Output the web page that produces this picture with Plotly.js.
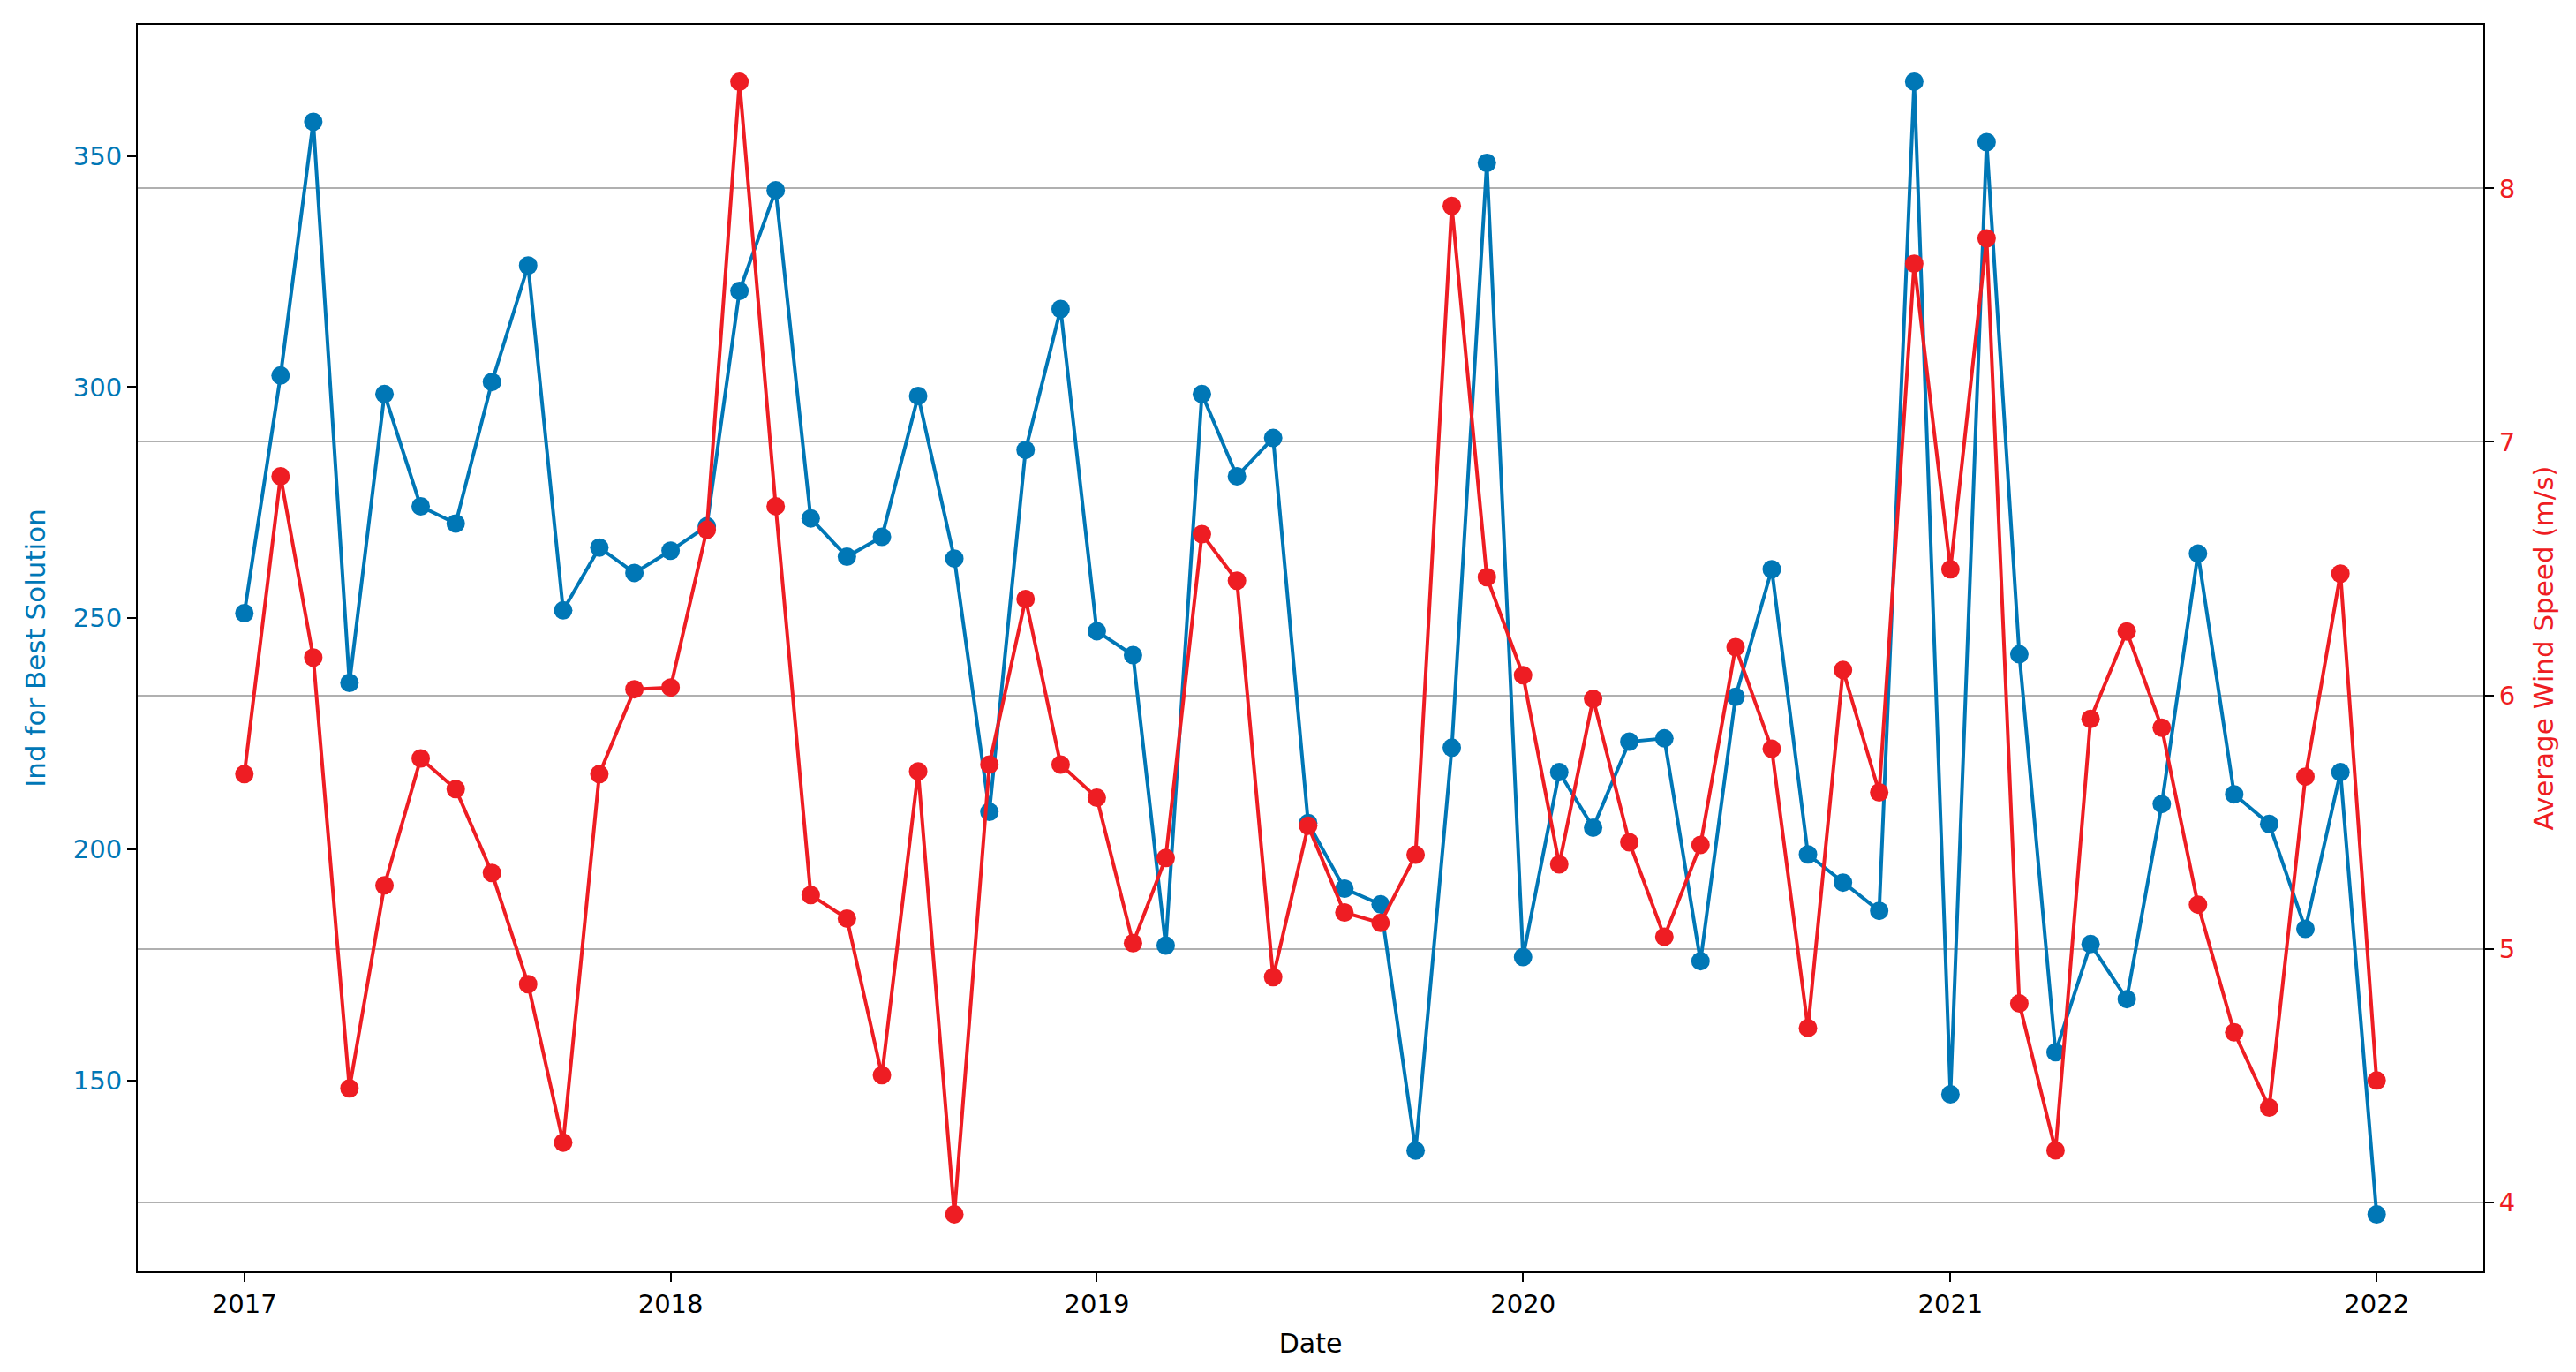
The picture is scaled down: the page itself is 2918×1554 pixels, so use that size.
<!DOCTYPE html>
<html>
<head>
<meta charset="utf-8">
<script src="https://cdn.plot.ly/plotly-3.0.1.min.js"></script>
<style>
  html, body { margin: 0; padding: 0; background: #ffffff; }
  #chart { width: 2918px; height: 1554px; }
</style>
</head>
<body>
<div id="chart"></div>
<script>
// Monthly dates (first of month)
const dates = [
  '2017-01-01','2017-02-01','2017-03-01','2017-04-01','2017-05-01','2017-06-01',
  '2017-07-01','2017-08-01','2017-09-01','2017-10-01','2017-11-01','2017-12-01',
  '2018-01-01','2018-02-01','2018-03-01','2018-04-01','2018-05-01','2018-06-01',
  '2018-07-01','2018-08-01','2018-09-01','2018-10-01','2018-11-01','2018-12-01',
  '2019-01-01','2019-02-01','2019-03-01','2019-04-01','2019-05-01','2019-06-01',
  '2019-07-01','2019-08-01','2019-09-01','2019-10-01','2019-11-01','2019-12-01',
  '2020-01-01','2020-02-01','2020-03-01','2020-04-01','2020-05-01','2020-06-01',
  '2020-07-01','2020-08-01','2020-09-01','2020-10-01','2020-11-01','2020-12-01',
  '2021-01-01','2021-02-01','2021-03-01','2021-04-01','2021-05-01','2021-06-01',
  '2021-07-01','2021-08-01','2021-09-01','2021-10-01','2021-11-01','2021-12-01',
  '2022-01-01'
];

// Ind for Best Solution (left axis)
const indBest = [
  251.1, 302.5, 357.4, 236.0, 298.5, 274.2, 270.5, 301.1, 326.3, 251.7, 265.3, 259.8,
  264.6, 269.9, 320.8, 342.6, 271.6, 263.3, 267.6, 298.1, 262.9, 208.1, 286.4, 316.9,
  247.2, 242.0, 179.2, 298.5, 280.7, 289.0, 205.7, 191.5, 188.1, 134.8, 222.0, 348.5,
  176.7, 216.7, 204.7, 223.3, 224.0, 175.8, 233.0, 260.6, 198.9, 192.8, 186.7, 366.1,
  147.0, 353.0, 242.2, 156.1, 179.5, 167.6, 209.8, 264.0, 211.9, 205.5, 182.8, 216.7,
  121.0
];

// Average Wind Speed (m/s) (right axis)
const windSpeed = [
  5.689, 6.864, 6.149, 4.449, 5.250, 5.751, 5.630, 5.299, 4.860, 4.235, 5.689, 6.024,
  6.031, 6.653, 8.421, 6.746, 5.212, 5.119, 4.501, 5.700, 3.952, 5.727, 6.380, 5.727,
  5.596, 5.022, 5.358, 6.636, 6.452, 4.888, 5.485, 5.143, 5.102, 5.371, 7.931, 6.466,
  6.079, 5.333, 5.986, 5.420, 5.047, 5.410, 6.190, 5.789, 4.687, 6.100, 5.617, 7.703,
  6.497, 7.803, 4.784, 4.204, 5.907, 6.252, 5.872, 5.174, 4.670, 4.373, 5.679, 6.480,
  4.480
];

const yearTicks = ['2017-01-01','2018-01-01','2019-01-01','2020-01-01','2021-01-01','2022-01-01'];
const yearLabels = ['2017','2018','2019','2020','2021','2022'];
const leftTicks = [150, 200, 250, 300, 350];
const rightTicks = [4, 5, 6, 7, 8];

const BLUE = '#0077b6';
const RED = '#ee1d23';
const FONT = 'DejaVu Sans, sans-serif';

const traces = [
  {
    x: dates, y: indBest, type: 'scatter', mode: 'lines+markers',
    name: 'Ind for Best Solution', yaxis: 'y',
    line: { color: BLUE, width: 4 },
    marker: { color: BLUE, size: 21 }
  },
  {
    x: dates, y: windSpeed, type: 'scatter', mode: 'lines+markers',
    name: 'Average Wind Speed (m/s)', yaxis: 'y2',
    line: { color: RED, width: 4 },
    marker: { color: RED, size: 21 }
  }
];

const layout = {
  width: 2918, height: 1554,
  paper_bgcolor: '#ffffff', plot_bgcolor: '#ffffff',
  showlegend: false,
  margin: { l: 156, r: 105, t: 28, b: 114, pad: 0 },
  font: { family: FONT, size: 29, color: '#000000' },
  xaxis: {
    type: 'date',
    range: ['2016-10-01 16:00', '2022-04-02 08:00'],
    tickvals: yearTicks, ticktext: yearLabels,
    showgrid: false, zeroline: false,
    showline: true, linecolor: '#000000', linewidth: 2, mirror: true,
    ticks: 'outside', ticklen: 10, tickwidth: 2, tickcolor: '#000000',
    tickfont: { family: FONT, size: 29, color: '#000000' },
    title: { text: 'Date', font: { family: FONT, size: 30, color: '#000000' }, standoff: 18 }
  },
  yaxis: {
    range: [108.7, 378.4],
    tickvals: leftTicks,
    showgrid: false, zeroline: false,
    showline: true, linecolor: '#000000', linewidth: 2,
    ticks: 'outside', ticklen: 10, tickwidth: 2, tickcolor: '#000000',
    tickfont: { family: FONT, size: 29, color: BLUE },
    title: { text: 'Ind for Best Solution', font: { family: FONT, size: 31, color: BLUE }, standoff: 22 }
  },
  yaxis2: {
    overlaying: 'y', side: 'right', anchor: 'x',
    range: [3.727, 8.646],
    tickvals: rightTicks,
    showgrid: true, gridcolor: '#b0b0b0', gridwidth: 2,
    zeroline: false,
    showline: true, linecolor: '#000000', linewidth: 2,
    ticks: 'outside', ticklen: 10, tickwidth: 2, tickcolor: '#000000',
    tickfont: { family: FONT, size: 29, color: RED },
    title: { text: 'Average Wind Speed (m/s)', font: { family: FONT, size: 31, color: RED }, standoff: 22 }
  }
};

Plotly.newPlot('chart', traces, layout, { displayModeBar: false, staticPlot: true });
</script>
</body>
</html>
